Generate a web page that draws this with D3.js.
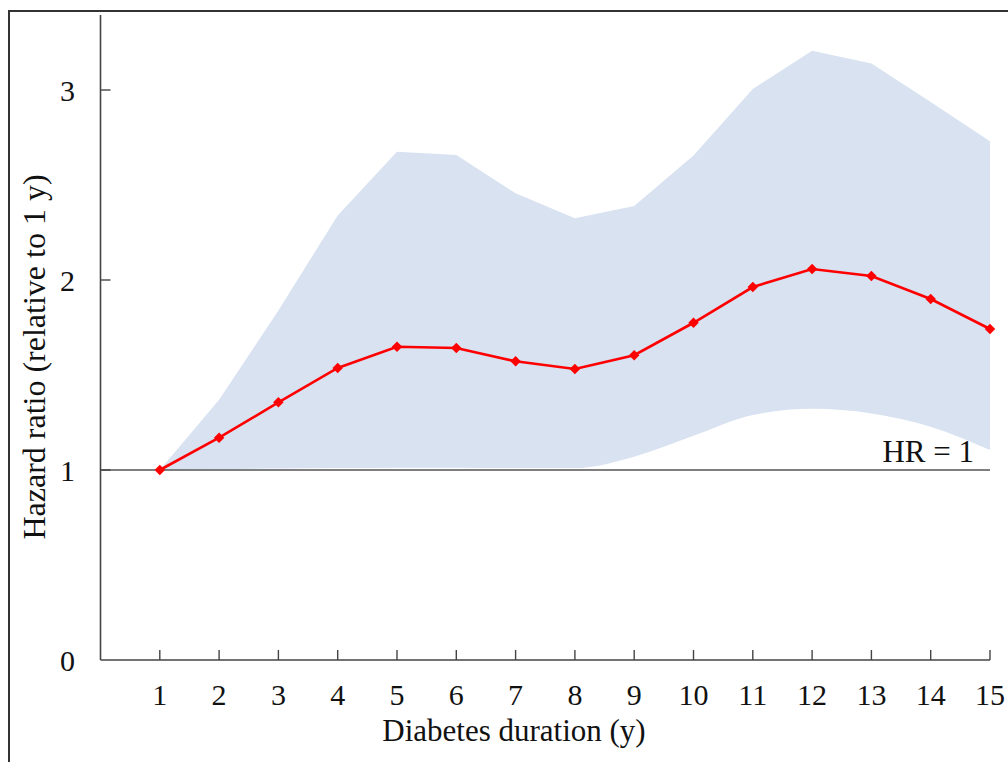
<!DOCTYPE html>
<html>
<head>
<meta charset="utf-8">
<script src="https://cdn.jsdelivr.net/npm/d3@7"></script>
<style>
  html, body { margin: 0; padding: 0; background: #fff; }
  svg { display: block; }
  text { font-family: "Liberation Serif", "Times New Roman", serif; fill: #111; }
</style>
</head>
<body>
<svg id="chart" width="1008" height="762"></svg>
<script>
// ---- data ----
const years = [1, 2, 3, 4, 5, 6, 7, 8, 9, 10, 11, 12, 13, 14, 15];
const hazardRatio = [1.0, 1.17, 1.356, 1.537, 1.649, 1.642, 1.572, 1.532, 1.604, 1.775, 1.963, 2.058, 2.021, 1.90, 1.742];
const upperCI = [1.0, 1.37, 1.84, 2.34, 2.675, 2.658, 2.456, 2.325, 2.39, 2.655, 3.005, 3.207, 3.14, 2.937, 2.73];
const lowerCI = [1.0, 1.005, 1.008, 1.01, 1.012, 1.012, 1.01, 1.01, 1.07, 1.18, 1.289, 1.322, 1.298, 1.228, 1.105];
const yTicks = [0, 1, 2, 3];
const xLabel = "Diabetes duration (y)";
const yLabel = "Hazard ratio (relative to 1 y)";
const refLabel = "HR = 1";

// ---- layout ----
const svg = d3.select("#chart");
const x = d3.scaleLinear().domain([0, 15]).range([100.5, 990]);
const y = d3.scaleLinear().domain([0, 3]).range([660, 90]);

// outer frame
svg.append("rect")
  .attr("x", 9).attr("y", 11).attr("width", 1200).attr("height", 1000)
  .attr("fill", "none").attr("stroke", "#333").attr("stroke-width", 2);

const rows = years.map((yr, i) => ({ yr, hr: hazardRatio[i], lo: lowerCI[i], hi: upperCI[i] }));

// CI band: straight upper edge, smooth lower edge
const upperPath = d3.line().x(d => x(d.yr)).y(d => y(d.hi)).curve(d3.curveLinear)(rows);
const lowerRev = rows.slice().reverse();
const lowerPath = d3.line().x(d => x(d.yr)).y(d => y(d.lo)).curve(d3.curveMonotoneX)(lowerRev);
svg.append("path")
  .attr("fill", "#d9e2f1")
  .attr("d", upperPath + "L" + lowerPath.slice(1) + "Z");

// HR = 1 reference line
svg.append("line")
  .attr("x1", x(0)).attr("x2", x(15))
  .attr("y1", y(1)).attr("y2", y(1))
  .attr("stroke", "#555").attr("stroke-width", 1.6);

svg.append("text")
  .attr("x", 974).attr("y", y(1) - 8)
  .attr("text-anchor", "end")
  .attr("font-size", 31)
  .text(refLabel);

// axes
const axisColor = "#444";
svg.append("line")
  .attr("x1", x(0)).attr("x2", x(0)).attr("y1", 15).attr("y2", y(0))
  .attr("stroke", axisColor).attr("stroke-width", 1.6);
svg.append("line")
  .attr("x1", x(0)).attr("x2", x(15)).attr("y1", y(0)).attr("y2", y(0))
  .attr("stroke", axisColor).attr("stroke-width", 1.6);

// y ticks (inward)
svg.selectAll(".yt").data(yTicks.filter(t => t > 0)).enter().append("line")
  .attr("x1", x(0)).attr("x2", x(0) + 10)
  .attr("y1", d => y(d)).attr("y2", d => y(d))
  .attr("stroke", axisColor).attr("stroke-width", 1.4);
svg.selectAll(".yl").data(yTicks).enter().append("text")
  .attr("x", 75).attr("y", d => y(d) + 10.5)
  .attr("text-anchor", "end")
  .attr("font-size", 30)
  .text(d => d);

// x ticks (inward)
svg.selectAll(".xt").data(years).enter().append("line")
  .attr("x1", d => x(d)).attr("x2", d => x(d))
  .attr("y1", y(0)).attr("y2", y(0) - 10)
  .attr("stroke", axisColor).attr("stroke-width", 1.4);
svg.selectAll(".xl").data(years).enter().append("text")
  .attr("x", d => x(d)).attr("y", 705)
  .attr("text-anchor", "middle")
  .attr("font-size", 30)
  .text(d => d);

// axis titles
svg.append("text")
  .attr("x", 514).attr("y", 741)
  .attr("text-anchor", "middle")
  .attr("font-size", 31)
  .text(xLabel);
svg.append("text")
  .attr("transform", "translate(45,357) rotate(-90)")
  .attr("text-anchor", "middle")
  .attr("font-size", 32)
  .text(yLabel);

// HR line
svg.append("path")
  .datum(rows)
  .attr("fill", "none")
  .attr("stroke", "#ff0000")
  .attr("stroke-width", 2.6)
  .attr("d", d3.line().x(d => x(d.yr)).y(d => y(d.hr)));

// diamond markers
svg.selectAll(".mk").data(rows).enter().append("path")
  .attr("transform", d => `translate(${x(d.yr)},${y(d.hr)}) rotate(45)`)
  .attr("d", d3.symbol().type(d3.symbolSquare).size(55))
  .attr("fill", "#ff0000");
</script>
</body>
</html>
